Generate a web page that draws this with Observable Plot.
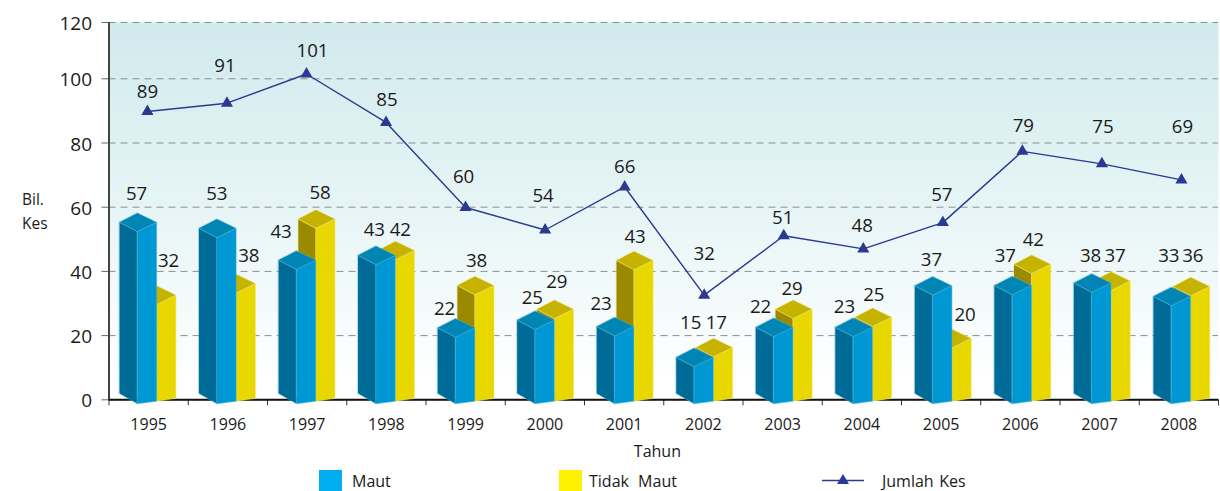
<!DOCTYPE html>
<html>
<head>
<meta charset="utf-8">
<script src="https://cdn.jsdelivr.net/npm/d3@7"></script>
<script src="https://cdn.jsdelivr.net/npm/@observablehq/plot@0.6"></script>
<style>
  html, body { margin: 0; padding: 0; background: #fff; }
  body { width: 1220px; height: 491px; position: relative; overflow: hidden; font-family: "Open Sans", sans-serif; color: #1a1a1a; }
  svg { display: block; }
  .lg { position: absolute; top: 470px; height: 21px; line-height: 23px; font-size: 16px; white-space: nowrap; }
  .sw { position: absolute; top: 470px; width: 23px; height: 21px; }
</style>
</head>
<body>
<div id="chart"></div>
<div class="sw" style="left:319px;background:#00adef"></div>
<div class="lg" style="left:352px">Maut</div>
<div class="sw" style="left:559px;background:#fff200"></div>
<div class="lg" style="left:589px;word-spacing:5px">Tidak Maut</div>
<svg style="position:absolute;left:822px;top:472px" width="42" height="16" viewBox="0 0 42 16"><path d="M0 8.5H42" stroke="#2b3990" stroke-width="1.3"/><path d="M21 2L27 12H15Z" fill="#2b3990"/></svg>
<div class="lg" style="left:882px;word-spacing:1.5px">Jumlah Kes</div>
<script>
// Data
const years = [1995,1996,1997,1998,1999,2000,2001,2002,2003,2004,2005,2006,2007,2008];
// printed values
const maut = [57,53,43,43,22,25,23,15,22,23,37,37,38,33];
const tidakMaut = [32,38,58,42,38,29,43,17,29,25,20,42,37,36];
const jumlahKes = [89,91,101,85,60,54,66,32,51,48,57,79,75,69];
// values as drawn, read against the y axis
const mautDrawn = [58.2,56.3,46.4,47.9,25.3,27.7,25.7,16.1,25.5,25.5,38.4,38.5,39.3,35.1];
const tidakMautDrawn = [35.5,39.1,59.2,49.4,38.5,31.1,46.3,19.2,31.1,28.6,22,45.1,39.9,38.2];
const jumlahDrawn = [89.8,92.4,101.7,86.4,59.9,52.9,66.3,32.6,51.1,47,55.2,77.4,73.5,68.5];
const yTicks = [0,20,40,60,80,100,120];

// Label offsets (px), relative to the mark they annotate
const mautDx = [-12,-11,-26,-12,-21,-12.5,-23,-12.6,-22,-17.4,-9.6,-15,-9,-10];
const mautDy = [-19,-25,-19,-16,-10,-13,-13,-25,-11,-11,-17,-20,-18,-31];
const tidakDx = [20,21,13,14,11,12,11,13,9.5,12,24,13,15.5,14];
const tidakDy = [-25,-18,-17,-11,-15,-18,-14,-15,-11,-13,-14,-15,-16,-21];
const jumlahDx = [0,-2,6,1,-2,-2,0,0,-1,-1,-1,1,1,1];
const jumlahDy = [-20,-37,-23,-22,-31,-34,-20,-41,-18,-23,-28,-25,-37,-53];

const W = 1220, H = 462, left = 108.5, right = 1218, top0 = 22, zero = 399.3;
const pxX = (right - left) / 14, pxY = 3.2;
const halfYears = d3.range(1994.5, 2009, 1);

const blueStyle = {l: -28.5, f: -10.5, r: 8.7, left: "#006b96", right: "#0098d4", top: "#0085b5", edge: "#4bb3d8", baseR: 400.7, baseL: 393};
const yellowStyle = {l: -8.8, f: 9, r: 28, left: "#9b8a00", right: "#e8d800", top: "#c6b300", edge: "#f0e77a", baseR: 397.8, baseL: 393};
const faces = [];
function addBar(i, h, s, id) {
  const X = p => years[i] + (p - 0.7 + 0.28 * i) / pxX;
  const back = h, side = h - 9.2 / pxY, front = h - 18.5 / pxY;
  const base = p => (zero - p) / pxY;
  const frontBase = s === blueStyle ? 403.3 : 400.7;
  const poly = (name, pts, fill) => pts.forEach(([x, y]) => faces.push({id: id + i + name, x: X(x), y, fill, edge: s.edge}));
  poly("L", [[s.l, base(s.baseL)], [s.f, base(frontBase)], [s.f, front], [s.l, side]], s.left);
  poly("R", [[s.f, base(frontBase)], [s.r, base(s.baseR)], [s.r, side], [s.f, front]], s.right);
  poly("T", [[s.l, side], [s.f, front], [s.r, side], [s.f, back]], s.top);
}
years.forEach((_, i) => { addBar(i, tidakMautDrawn[i], yellowStyle, "y"); addBar(i, mautDrawn[i], blueStyle, "b"); });

const linePts = years.map((yr, i) => ({x: yr + (-1.2 + 0.29 * i) / pxX, y: jumlahDrawn[i], v: jumlahKes[i], dx: jumlahDx[i], dy: jumlahDy[i]}));
const blueLabels = years.map((yr, i) => ({x: yr, y: mautDrawn[i], v: maut[i], dx: mautDx[i], dy: mautDy[i]}));
const yellowLabels = years.map((yr, i) => ({x: yr, y: tidakMautDrawn[i], v: tidakMaut[i], dx: tidakDx[i], dy: tidakDy[i]}));
const valueLabel = d => Plot.text([d], {x: "x", y: "y", text: "v", dx: d.dx, dy: d.dy, fontSize: 18.7, fill: "#1a1a1a", lineAnchor: "middle"});

const bgDefs = () => {
  const defs = d3.create("svg:defs");
  const g = defs.append("linearGradient").attr("id", "bg").attr("x1", 0).attr("y1", 0).attr("x2", 0).attr("y2", 1);
  g.append("stop").attr("offset", "0").attr("stop-color", "#d1eaed");
  g.append("stop").attr("offset", "0.5").attr("stop-color", "#e7f5f6");
  g.append("stop").attr("offset", "0.95").attr("stop-color", "#ffffff");
  return defs.node();
};

const plot = Plot.plot({
  width: W, height: H,
  marginLeft: left, marginRight: W - right, marginTop: top0, marginBottom: H - zero,
  style: {fontFamily: '"Open Sans", sans-serif', color: "#1a1a1a", background: "transparent", overflow: "visible"},
  x: {type: "linear", domain: [1994.5, 2008.5], range: [left, right]},
  y: {type: "linear", domain: [0, 100, 120], range: [zero, 78.3, top0]},
  color: {type: "identity"},
  marks: [
    bgDefs,
    Plot.frame({fill: "url(#bg)", stroke: "none"}),
    Plot.gridY({ticks: yTicks, stroke: "#8f8f8f", strokeOpacity: 1, strokeWidth: 1, strokeDasharray: "7 5"}),
    Plot.axisY({ticks: yTicks, tickSize: 7, tickFormat: () => "", stroke: "#666", label: null}),
    Plot.axisY({ticks: yTicks, tickSize: 0, tickPadding: 17, dy: 1.5, fontSize: 19, label: null, fill: "#1a1a1a"}),
    Plot.axisX({ticks: halfYears, tickSize: 6, tickFormat: () => "", stroke: "#333", label: null}),
    Plot.axisX({ticks: years, tickSize: 0, tickPadding: 18.5, fontSize: 16, tickFormat: d => String(d), label: null, fill: "#1a1a1a"}),
    Plot.ruleX([1994.5], {y1: 0, y2: 120, stroke: "#444", strokeWidth: 2}),
    Plot.ruleY([0], {stroke: "#111", strokeWidth: 2}),
    Plot.line(faces, {x: "x", y: "y", z: "id", fill: "fill", stroke: "edge", strokeWidth: 0.5, curve: "linear-closed"}),
    Plot.line(linePts, {x: "x", y: "y", stroke: "#2b3990", strokeWidth: 1.4}),
    Plot.dot(linePts, {x: "x", y: "y", symbol: "triangle", r: 4.5, fill: "#2b3990", stroke: "none"}),
    ...linePts.map(valueLabel),
    ...blueLabels.map(valueLabel),
    ...yellowLabels.map(valueLabel),
    Plot.text(["Bil.\nKes"], {frameAnchor: "left", y: () => 59.3, dx: -87, textAnchor: "start", lineAnchor: "middle", lineHeight: 1.5, fontSize: 15.5, fill: "#1a1a1a"}),
    Plot.text(["Tahun"], {frameAnchor: "bottom", x: () => 2001.42, dy: 52.5, lineAnchor: "middle", fontSize: 16, fill: "#1a1a1a"})
  ]
});
document.getElementById("chart").appendChild(plot);
</script>
</body>
</html>
